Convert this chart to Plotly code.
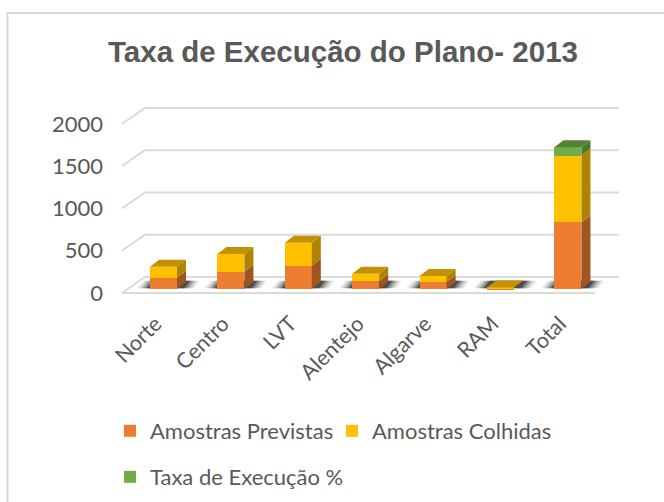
import plotly.graph_objects as go

# Data
regioes = ['Norte', 'Centro', 'LVT', 'Alentejo', 'Algarve', 'RAM', 'Total']
previstas = [134, 205, 275, 91, 79, 10, 788]
colhidas = [130, 209, 272, 90, 75, 8, 792]
taxa = [0, 0, 0, 0, 0, 0, 98]
y_ticks = [0, 500, 1000, 1500, 2000]

# fake 3d depth, in axis units (1 category = 67.4 px, 1 px = 11.83 values)
bar_w = 0.4
depth_x = 0.134
depth_y = 83
wall_x = 0.34
wall_y = 142
floor_y = 47
left_x = -0.616
right_x = 6.418
x_range = [-0.675, 6.832]
y_range = [-130, 2237]

ORANGE, YELLOW, GREEN = '#ED7D31', '#FFC000', '#70AD47'
sides = {ORANGE: '#A0541F', YELLOW: '#AD8300', GREEN: '#4E7A30'}
tops = {ORANGE: '#B5602A', YELLOW: '#C49200', GREEN: '#568235'}


def polygons(shapes):
    xs, ys = [], []
    for shape in shapes:
        xs += [p[0] for p in shape] + [shape[0][0], None]
        ys += [p[1] for p in shape] + [shape[0][1], None]
    return xs, ys


fig = go.Figure()

# gridlines: back wall plus the slanted bit on the left
grid_x, grid_y = [], []
for v in y_ticks:
    grid_x += [left_x, left_x + wall_x, right_x + wall_x, None]
    grid_y += [v - floor_y, v + wall_y, v + wall_y, None]
grid_x += [left_x, right_x - 0.018]
grid_y += [-floor_y, -floor_y]
fig.add_trace(go.Scatter(x=grid_x, y=grid_y, mode='lines', showlegend=False, hoverinfo='skip',
                         line=dict(color='#DADADA', width=2)))

# shadows on the floor, a few layers to fake the blur
for grow, alpha in [(0.17, 0.1), (0.13, 0.15), (0.09, 0.25), (0.05, 0.35), (0.02, 0.45)]:
    shapes = []
    for i in range(len(regioes)):
        x0, x1 = i - bar_w / 2, i + bar_w / 2 + depth_x
        y0, y1 = 10, depth_y + 15
        shapes.append([(x0 - grow - 0.02, y0), (x1 + grow - 0.05, y0), (x1 + grow + 0.03, y1), (x0 - grow + 0.07, y1)])
    xs, ys = polygons(shapes)
    fig.add_trace(go.Scatter(x=xs, y=ys, mode='lines', fill='toself', fillcolor='rgba(30,30,30,%s)' % alpha,
                             line=dict(width=0), showlegend=False, hoverinfo='skip'))

# front faces
series = [('Amostras Previstas', previstas, ORANGE),
          ('Amostras Colhidas', colhidas, YELLOW),
          ('Taxa de Execução %', taxa, GREEN)]
for name, vals, col in series:
    fig.add_trace(go.Bar(x=list(range(len(regioes))), y=vals, name=name, width=bar_w, marker_color=col,
                         marker_line_width=0, xaxis='x2', yaxis='y2',
                         legend='legend2' if col == GREEN else 'legend'))

# side and top faces worked out from the stacked values
for k, (name, vals, col) in enumerate(series):
    side, top = [], []
    for i in range(len(regioes)):
        base = sum(s[1][i] for s in series[:k])
        above = sum(s[1][i] for s in series[k + 1:])
        r = i + bar_w / 2
        l = i - bar_w / 2
        h = base + vals[i]
        if vals[i] > 0:
            side.append([(r, base), (r + depth_x, base + depth_y), (r + depth_x, h + depth_y), (r, h)])
        if vals[i] > 0 and above == 0:
            top.append([(l, h), (r, h), (r + depth_x, h + depth_y), (l + depth_x, h + depth_y)])
    for shapes, colors in [(side, sides), (top, tops)]:
        if shapes:
            xs, ys = polygons(shapes)
            fig.add_trace(go.Scatter(x=xs, y=ys, mode='lines', fill='toself', fillcolor=colors[col],
                                     line=dict(width=0), showlegend=False, hoverinfo='skip',
                                     xaxis='x2', yaxis='y2'))

# plot area is 506 x 200 px; shape positions are fractions of it
plot_l, plot_t, plot_w, plot_h = 118, 100, 506, 200

fig.update_layout(
    width=664, height=502, autosize=False,
    margin=dict(l=plot_l, r=664 - plot_l - plot_w, t=plot_t, b=502 - plot_t - plot_h),
    paper_bgcolor='white', plot_bgcolor='rgba(0,0,0,0)',
    barmode='stack',
    font=dict(family='Lato', color='#595959', size=22),
    title=dict(text='<b>Taxa de Execução do Plano- 2013</b>', x=343 / 664, xanchor='center',
               y=1 - 52 / 502, yanchor='middle',
               font=dict(family='Liberation Sans', size=29.5, color='#595959')),
    xaxis=dict(range=x_range, tickvals=list(range(len(regioes))), ticktext=regioes, tickangle=-45,
               showgrid=False, zeroline=False, showline=False, ticks='',
               tickfont=dict(size=21.5), ticklabelstandoff=6, ticklabelshift=-8),
    yaxis=dict(range=y_range, tickvals=y_ticks, showgrid=False, zeroline=False, showline=False,
               ticks='', ticklabelstandoff=14, ticklabelshift=4),
    xaxis2=dict(range=x_range, overlaying='x', visible=False),
    yaxis2=dict(range=y_range, overlaying='y', visible=False),
    legend=dict(orientation='h', xref='container', yref='container', x=110 / 664, xanchor='left',
                y=1 - 431 / 502, yanchor='middle',
                bgcolor='rgba(0,0,0,0)', traceorder='normal', entrywidth=177, entrywidthmode='pixels'),
    legend2=dict(orientation='h', xref='container', yref='container', x=110 / 664, xanchor='left',
                 y=1 - 477 / 502, yanchor='middle', bgcolor='rgba(0,0,0,0)'),
    shapes=[
        dict(type='line', xref='paper', yref='paper', x0=(7.5 - plot_l) / plot_w, x1=(7.5 - plot_l) / plot_w,
             y0=(plot_t + plot_h - 502) / plot_h, y1=(plot_t + plot_h - 13) / plot_h,
             line=dict(color='#D9D9D9', width=2)),
        dict(type='line', xref='paper', yref='paper', x0=(6.5 - plot_l) / plot_w, x1=(664 - plot_l) / plot_w,
             y0=(plot_t + plot_h - 13) / plot_h, y1=(plot_t + plot_h - 13) / plot_h,
             line=dict(color='#D9D9D9', width=2)),
    ],
)

# page body has a default margin that would push the chart 8px in
fig.write_html("out.html", config=dict(displayModeBar=False), post_script="document.body.style.margin='0';")
